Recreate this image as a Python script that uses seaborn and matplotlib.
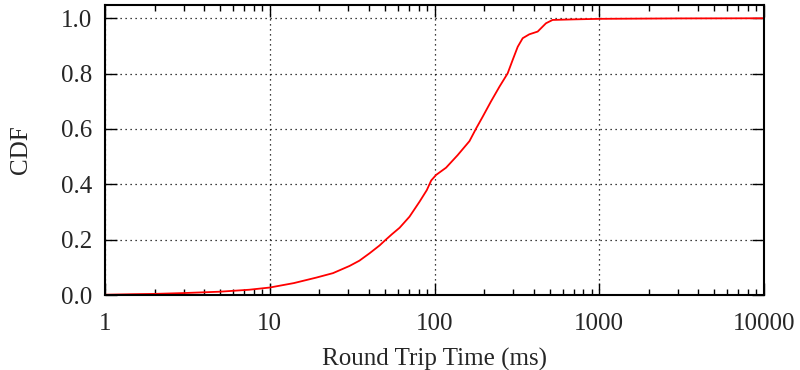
import numpy as np
import pandas as pd
import matplotlib
matplotlib.use("Agg")
import matplotlib.pyplot as plt
from matplotlib.ticker import LogLocator, FixedLocator, NullFormatter
import seaborn as sns

# Round trip time samples (ms) and cumulative fraction
rtt_ms = [1, 1.5, 2, 3, 5, 7.5, 10, 14, 19.2, 24.2, 30.5, 35, 40.4, 46.4,
          49.8, 55, 61.4, 70.5, 81.1, 89.8, 95.5, 102.3, 117.5, 138, 163,
          179, 196, 220, 248, 278, 298, 320, 343, 376, 423, 475, 521, 700,
          1000, 3000, 10000]
cdf = [0.001, 0.003, 0.004, 0.007, 0.012, 0.019, 0.027, 0.043, 0.063, 0.079,
       0.105, 0.124, 0.151, 0.179, 0.196, 0.219, 0.243, 0.283, 0.337, 0.379,
       0.414, 0.434, 0.460, 0.505, 0.556, 0.602, 0.644, 0.699, 0.753, 0.801,
       0.849, 0.897, 0.928, 0.942, 0.952, 0.982, 0.994, 0.996, 0.998,
       0.9995, 1.0]

x_ticks = [1, 10, 100, 1000, 10000]
x_labels = ["1", "10", "100", "1000", "10000"]
y_ticks = [0.0, 0.2, 0.4, 0.6, 0.8, 1.0]
y_labels = ["0.0", "0.2", "0.4", "0.6", "0.8", "1.0"]

df = pd.DataFrame({"rtt": rtt_ms, "cdf": cdf})

sns.set_theme(style="white")
plt.rcParams["font.family"] = ["Liberation Serif", "DejaVu Serif"]

fig = plt.figure(figsize=(8, 3.7), dpi=100)
ax = fig.add_axes([0.13125, 0.2027, 0.955 - 0.13125, 0.9865 - 0.2027])

sns.lineplot(data=df, x="rtt", y="cdf", ax=ax, color="#ff0000",
             linewidth=1.3, estimator=None, sort=True)

ax.set_xscale("log")
ax.set_xlim(1, 10000)
ax.set_ylim(0, 1.048)

ax.xaxis.set_major_locator(FixedLocator(x_ticks))
ax.set_xticklabels(x_labels)
ax.xaxis.set_minor_locator(LogLocator(base=10, subs=np.arange(2, 10)))
ax.xaxis.set_minor_formatter(NullFormatter())
ax.set_yticks(y_ticks)
ax.set_yticklabels(y_labels)

ax.tick_params(axis="both", which="major", direction="in", length=8.5,
               width=1.0, color="black", labelsize=18,
               top=True, right=True, bottom=True, left=True)
ax.tick_params(axis="x", which="major", pad=13)
ax.tick_params(axis="y", which="major", pad=9)
ax.tick_params(axis="x", which="minor", direction="in", length=4,
               width=1.0, color="black", top=True, bottom=True)
ax.tick_params(axis="y", which="minor", left=False, right=False)

ax.grid(True, which="major", color="black", linestyle=(0, (1, 3)),
        linewidth=0.9)

for spine in ax.spines.values():
    spine.set_visible(True)
    spine.set_color("black")
    spine.set_linewidth(1.5)

ax.set_xlabel("Round Trip Time (ms)", fontsize=18, labelpad=9)
ax.set_ylabel("CDF", fontsize=18, labelpad=21)

fig.savefig("out.png", dpi=100)
